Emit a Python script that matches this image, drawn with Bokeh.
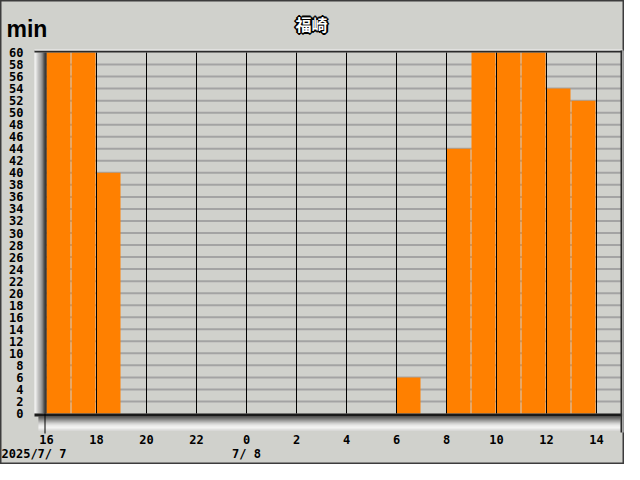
from bokeh.plotting import figure
from bokeh.models import Range1d, FixedTicker, Label
from bokeh.embed import file_html
from bokeh.resources import INLINE

# ---------------- data ----------------
title_text = "福崎"
y_unit = "min"
date_labels = ["2025/7/ 7", "7/ 8"]
date_label_hours = [16, 24]
hours = list(range(16, 39))  # 16:00 on 7/7 ... 14:00 on 7/8 (hour + 24 for next day)
sunshine_min = [60, 60, 40, 0, 0, 0, 0, 0, 0, 0, 0, 0, 0, 0, 6, 0, 44, 60, 60, 60, 54, 52, 0]
y_ticks = list(range(0, 61, 2))
x_ticks = list(range(16, 39, 2))
x_tick_labels = [str(h % 24) for h in x_ticks]

# ---------------- style / layout ----------------
W, H = 624, 464
SHIFT = 6                      # horizontal shift vs. the 640 px reference
BG = "#D0D1CC"
BAR = "#FF8000"
MONO = "DejaVu Sans Mono"

X_FIRST, X_LAST = hours[0], hours[-1] + 1
Y_MIN, Y_MAX = y_ticks[0], y_ticks[-1]
PX_PER_H = 25.0
PX_PER_MIN = 361.0 / 60.0
X_ORIGIN_PX = 52               # reference pixel of the first hour
Y_ORIGIN_PX = 413              # reference pixel of 0 min


def X(rx):
    """reference x pixel -> data x"""
    return X_FIRST + (rx - X_ORIGIN_PX) / PX_PER_H


def Y(ry):
    """reference y pixel -> data y"""
    return Y_MIN + (Y_ORIGIN_PX - ry) / PX_PER_MIN


x_range = Range1d(X(SHIFT), X(SHIFT + W))
y_range = Range1d(Y(H), Y(0))

p = figure(width=W, height=H, x_range=x_range, y_range=y_range, title=None,
           output_backend="svg", toolbar_location=None,
           min_border_left=0, min_border_right=0, min_border_top=0, min_border_bottom=0)
p.background_fill_color = BG
p.border_fill_color = BG
p.outline_line_color = "#3c3c3c"
p.outline_line_width = 2
p.xgrid.visible = False
p.ygrid.visible = False

# horizontal grid lines (under the bars)
hy = [t for t in y_ticks if Y_MIN < t < Y_MAX]
p.segment(x0=[X_FIRST] * len(hy), x1=[X_LAST] * len(hy), y0=hy, y1=hy,
          line_color="#A3A3A3", line_width=2)

# bars
bar_w = 1 - 1 / PX_PER_H
p.quad(left=hours, right=[h + bar_w for h in hours], bottom=[Y_MIN] * len(hours),
       top=sunshine_min, fill_color=BAR, line_color=None)

# vertical grid lines at even hours (over the bars)
vx = [t for t in x_ticks if t > X_FIRST]
p.segment(x0=vx, x1=vx, y0=[Y_MIN] * len(vx), y1=[Y_MAX] * len(vx),
          line_color="#000000", line_width=1)

# ---- 3D frame decoration ----
def gray(g):
    return "#%02x%02x%02x" % (g, g, g)

left_grays = [250, 246, 220, 200, 180, 165, 150, 125, 95, 50, 20, 5]
n = len(left_grays)
p.quad(left=[X(40 + i) for i in range(n)], right=[X(41 + i) for i in range(n)],
       bottom=[Y_MIN] * n, top=[Y_MAX] * n,
       fill_color=[gray(g) for g in left_grays], line_color=None)
# bottom dark line and gradient band
p.quad(left=[X(40)], right=[X(628)], top=[Y_MIN], bottom=[Y(416)],
       fill_color="#1a1a1a", line_color=None)
bot_grays = [50, 70, 95, 120, 145, 170, 195, 215, 232, 245, 252, 255, 240, 225]
m = len(bot_grays)
p.quad(left=[X(44)] * m, right=[X(626)] * m,
       top=[Y(416 + i) for i in range(m)], bottom=[Y(417 + i) for i in range(m)],
       fill_color=[gray(g) for g in bot_grays], line_color=None)
# top dark line + highlight
p.quad(left=[X(40), X(40)], right=[X(628), X(628)],
       bottom=[Y_MAX, Y(50)], top=[Y(50), Y(49)],
       fill_color=["#2a2a2a", "#f2f2f2"], line_color=None)
# right dark line + highlight
p.quad(left=[X(626), X(628)], right=[X(628), X(629)],
       bottom=[Y(432), Y(432)], top=[Y(50), Y(50)],
       fill_color=["#2a2a2a", "#f2f2f2"], line_color=None)
# origin marker
p.segment(x0=[X(50.5)], x1=[X(50.5)], y0=[Y_MIN], y1=[Y(433)], line_color="#000000", line_width=1)

# ---- axes (placed at fixed locations inside the canvas) ----
for ax in (p.xaxis[0], p.yaxis[0]):
    ax.axis_line_color = None
    ax.major_tick_line_color = None
    ax.minor_tick_line_color = None
    ax.major_tick_out = 0
    ax.major_tick_in = 0
    ax.minor_tick_out = 0
    ax.minor_tick_in = 0
    ax.major_label_text_font = MONO
    ax.major_label_text_font_style = "bold"
    ax.major_label_text_font_size = "12px"
    ax.major_label_text_color = "#000000"

p.yaxis.ticker = FixedTicker(ticks=y_ticks)
p.yaxis.fixed_location = X(40)
p.yaxis.major_label_standoff = 11
p.xaxis.ticker = FixedTicker(ticks=x_ticks)
p.xaxis.major_label_overrides = {t: lab for t, lab in zip(x_ticks, x_tick_labels)}
p.xaxis.fixed_location = Y(432)
p.xaxis.major_label_standoff = 2

# ---- texts ----
p.add_layout(Label(x=X(12), y=Y(28.5), text=y_unit,
                   text_font="Liberation Sans", text_font_style="bold",
                   text_font_size="23px", text_align="left", text_baseline="middle",
                   text_color="#000000"))

tx, ty = X(317), Y(23.5)
for ox, oy in [(-1, -1), (0, -1), (1, -1), (-1, 0), (1, 0), (-1, 1), (0, 1), (1, 1),
               (-2, 0), (2, 0), (0, -2), (0, 2)]:
    p.add_layout(Label(x=tx, y=ty, x_offset=ox, y_offset=oy, text=title_text,
                       text_font="Noto Sans CJK JP", text_font_style="bold",
                       text_font_size="16px", text_align="center", text_baseline="middle",
                       text_color="#000000"))
p.add_layout(Label(x=tx, y=ty, text=title_text,
                   text_font="Noto Sans CJK JP", text_font_style="bold",
                   text_font_size="16px", text_align="center", text_baseline="middle",
                   text_color="#ffffff"))

# date labels under the axis
p.add_layout(Label(x=X(SHIFT + 1), y=Y(453), text=date_labels[0],
                   text_font=MONO, text_font_style="bold", text_font_size="12px",
                   text_align="left", text_baseline="middle", text_color="#000000"))
p.add_layout(Label(x=date_label_hours[1], y=Y(453), text=date_labels[1],
                   text_font=MONO, text_font_style="bold", text_font_size="12px",
                   text_align="center", text_baseline="middle", text_color="#000000"))

open("out.html", "w").write(file_html(p, INLINE))
